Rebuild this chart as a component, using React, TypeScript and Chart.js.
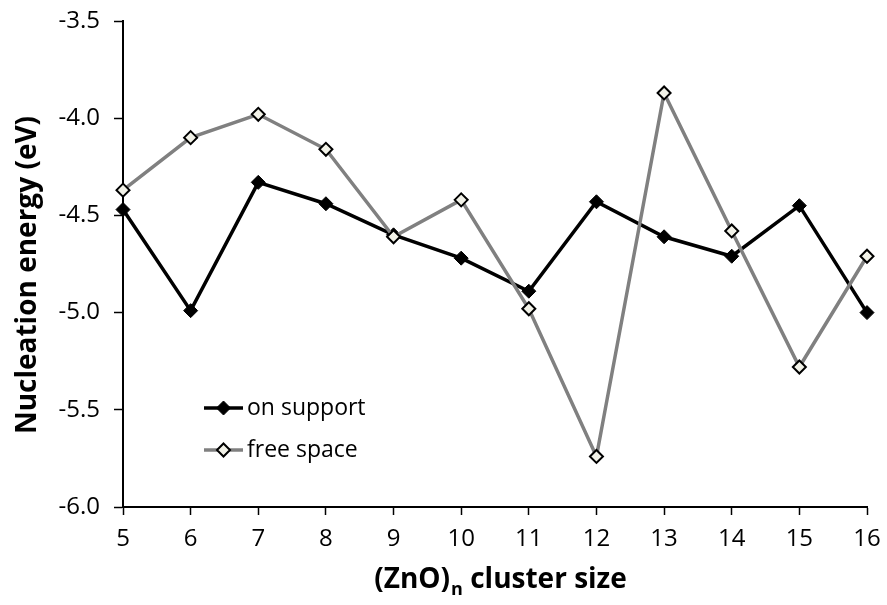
import React, { useEffect, useRef } from "react";
import { Chart, registerables } from "chart.js";

Chart.register(...registerables);

// Cluster sizes n of (ZnO)n
const clusterSizes = ["5", "6", "7", "8", "9", "10", "11", "12", "13", "14", "15", "16"];

// Nucleation energies (eV)
const onSupport = [-4.47, -4.99, -4.33, -4.44, -4.60, -4.72, -4.89, -4.43, -4.61, -4.71, -4.45, -5.0];
const freeSpace = [-4.37, -4.10, -3.98, -4.16, -4.61, -4.42, -4.98, -5.74, -3.87, -4.58, -5.28, -4.71];

const seriesNames = ["on support", "free space"];
const yTickValues = [-6.0, -5.5, -5.0, -4.5, -4.0, -3.5];

const FONT = "'Open Sans', 'DejaVu Sans', sans-serif";

const W = 887;
const H = 605;

// Inline legend plus axis titles (the x title carries a subscript)
const decorations = {
  id: "decorations",
  afterDraw(chart: any) {
    const { ctx } = chart;
    ctx.save();

    // legend rows inside the plot area
    [0, 1].forEach((i) => {
      const ds = chart.data.datasets[i];
      const y = 408 + i * 42;
      const x0 = 204;
      const x1 = 243;
      ctx.strokeStyle = ds.borderColor;
      ctx.lineWidth = ds.borderWidth;
      ctx.beginPath();
      ctx.moveTo(x0, y);
      ctx.lineTo(x1, y);
      ctx.stroke();
      ctx.fillStyle = ds.pointBackgroundColor;
      ctx.strokeStyle = ds.pointBorderColor;
      ctx.lineWidth = ds.pointBorderWidth;
      const r = ds.pointRadius;
      const cx = (x0 + x1) / 2;
      ctx.beginPath();
      ctx.moveTo(cx, y - r);
      ctx.lineTo(cx + r, y);
      ctx.lineTo(cx, y + r);
      ctx.lineTo(cx - r, y);
      ctx.closePath();
      ctx.fill();
      ctx.stroke();
      ctx.fillStyle = "#000";
      ctx.font = `23px ${FONT}`;
      ctx.textAlign = "left";
      ctx.textBaseline = "middle";
      ctx.fillText(seriesNames[i], 247, y);
    });

    // x axis title: (ZnO)n cluster size, with subscript n
    const cx = 500;
    const ty = 580;
    const part1 = "(ZnO)";
    const sub = "n";
    const part2 = " cluster size";
    ctx.font = `bold 28px ${FONT}`;
    const w1 = ctx.measureText(part1).width;
    const w3 = ctx.measureText(part2).width;
    ctx.font = `bold 18px ${FONT}`;
    const w2 = ctx.measureText(sub).width;
    const total = w1 + w2 + w3;
    let x = cx - total / 2;
    ctx.fillStyle = "#000";
    ctx.textAlign = "left";
    ctx.textBaseline = "middle";
    ctx.font = `bold 28px ${FONT}`;
    ctx.fillText(part1, x, ty);
    x += w1;
    ctx.font = `bold 18px ${FONT}`;
    ctx.fillText(sub, x + 1, ty + 10);
    x += w2 + 1;
    ctx.font = `bold 28px ${FONT}`;
    ctx.fillText(part2, x, ty);

    // y axis title
    ctx.translate(28, 275);
    ctx.rotate(-Math.PI / 2);
    ctx.textAlign = "center";
    ctx.textBaseline = "middle";
    ctx.font = `bold 28px ${FONT}`;
    ctx.fillText("Nucleation energy (eV)", 0, 0);

    ctx.restore();
  },
};

export default function App() {
  const canvasRef = useRef<HTMLCanvasElement | null>(null);

  useEffect(() => {
    const canvas = canvasRef.current;
    if (!canvas) return;
    const chart = new Chart(canvas, {
      type: "line",
      data: {
        labels: clusterSizes,
        datasets: [
          {
            label: seriesNames[0],
            data: onSupport,
            borderColor: "#000000",
            borderWidth: 3.5,
            pointStyle: "rectRot",
            pointRadius: 7,
            pointBackgroundColor: "#000000",
            pointBorderColor: "#000000",
            pointBorderWidth: 1,
            tension: 0,
            order: 1,
          },
          {
            label: seriesNames[1],
            data: freeSpace,
            borderColor: "#808080",
            borderWidth: 3.5,
            pointStyle: "rectRot",
            pointRadius: 6.5,
            pointBackgroundColor: "#f2f2e8",
            pointBorderColor: "#000000",
            pointBorderWidth: 2,
            tension: 0,
            order: 0,
          },
        ],
      },
      options: {
        responsive: false,
        animation: false,
        devicePixelRatio: 1,
        layout: { padding: { top: 21, right: 20, left: 0, bottom: 0 } },
        plugins: {
          legend: { display: false },
          tooltip: { enabled: false },
        },
        scales: {
          x: {
            type: "category",
            offset: false,
            afterFit: (scale: any) => {
              scale.height = 98;
              scale.paddingLeft = 0;
              scale.paddingRight = 0;
            },
            grid: {
              display: true,
              drawOnChartArea: false,
              drawTicks: true,
              tickLength: 8,
              tickWidth: 1.5,
              tickColor: "#000",
              offset: false,
            },
            border: { display: true, color: "#000", width: 2 },
            ticks: {
              color: "#000",
              font: { family: FONT, size: 24 },
              padding: 10,
              maxRotation: 0,
              autoSkip: false,
            },
          },
          y: {
            type: "linear",
            min: -6,
            max: -3.5,
            afterFit: (scale: any) => {
              scale.width = 123;
              scale.paddingTop = 0;
              scale.paddingBottom = 0;
            },
            afterBuildTicks: (scale: any) => {
              scale.ticks = yTickValues.map((v) => ({ value: v }));
            },
            grid: {
              display: true,
              drawOnChartArea: false,
              drawTicks: true,
              tickLength: 9,
              tickWidth: 1.5,
              tickColor: "#000",
            },
            border: { display: true, color: "#000", width: 2 },
            ticks: {
              color: "#000",
              font: { family: FONT, size: 24 },
              padding: 14,
              callback: (v: any) => Number(v).toFixed(1),
            },
          },
        },
      },
      plugins: [decorations],
    });
    return () => chart.destroy();
  }, []);

  return (
    <div style={{ position: "fixed", left: 0, top: 0, width: W, height: H, background: "#fff" }}>
      <canvas ref={canvasRef} width={W} height={H} style={{ width: W, height: H }} />
    </div>
  );
}
